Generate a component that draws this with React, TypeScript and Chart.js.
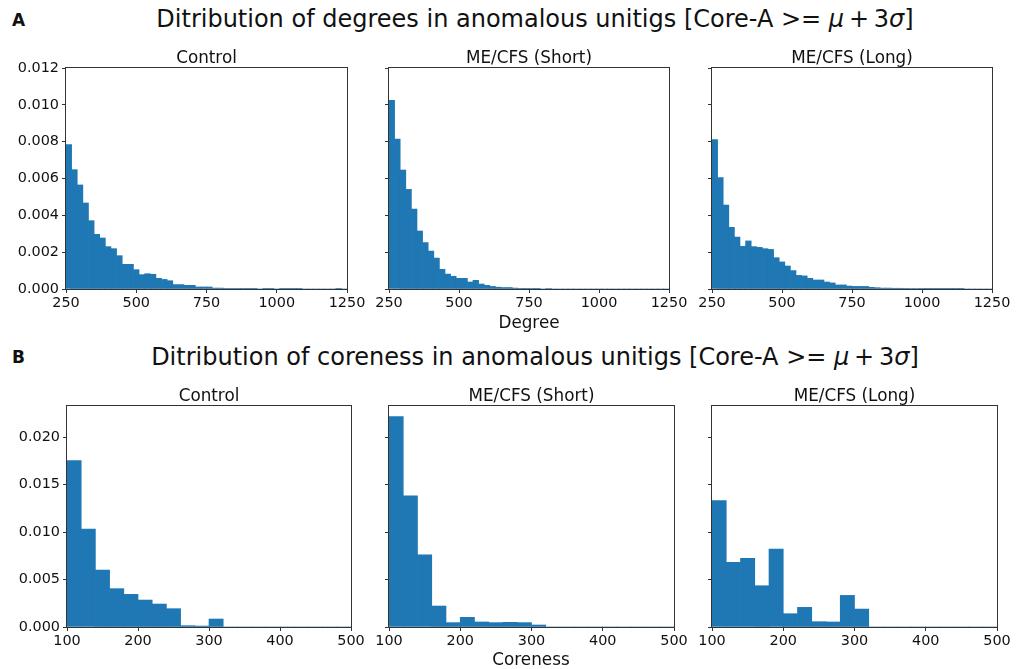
import React, { useEffect, useRef } from "react";
import { Chart, registerables } from "chart.js";

Chart.register(...registerables);

// ---------- Data ----------
const DEGREE_BIN_START = 250;
const DEGREE_BIN_WIDTH = 20;
const CORENESS_BIN_START = 100;
const CORENESS_BIN_WIDTH = 20;

const panelTitles = ["Control", "ME/CFS (Short)", "ME/CFS (Long)"];

const degreeControl = [
  0.00784, 0.00648, 0.00565, 0.00467, 0.00371, 0.00297, 0.00277, 0.0023, 0.00219, 0.00181,
  0.00134, 0.00134, 0.00105, 0.00078, 0.00083, 0.0008, 0.00058, 0.00052, 0.00045, 0.00024,
  0.00024, 0.0002, 0.0002, 0.00011, 0.00011, 0.00011, 0.00005, 0.00005, 0.00002, 0.00002,
  0.00002, 0.00002, 0.00001, 0.00001, 0, 0.00001, 0.00001, 0, 0.00001, 0.00001,
  0.00001, 0.00001, 0, 0, 0, 0, 0, 0, 0.00001, 0,
];
const degreeShort = [
  0.01024, 0.00814, 0.00646, 0.00541, 0.00434, 0.00315, 0.00252, 0.00206, 0.00168, 0.00107,
  0.00081, 0.00069, 0.00058, 0.00058, 0.00038, 0.00047, 0.00027, 0.0002, 0.00014, 0.0001,
  0.00008, 0.00008, 0.00005, 0.00002, 0.00001, 0.00002, 0.00001, 0, 0.00003, 0,
  0, 0, 0, 0, 0, 0, 0, 0, 0, 0,
  0, 0, 0, 0, 0, 0, 0, 0, 0, 0,
];
const degreeLong = [
  0.00811, 0.00605, 0.00456, 0.00335, 0.00282, 0.00232, 0.00261, 0.0023, 0.00226, 0.00219,
  0.00215, 0.0017, 0.00147, 0.00125, 0.001, 0.00074, 0.00071, 0.00058, 0.00049, 0.00049,
  0.00038, 0.00033, 0.00022, 0.00022, 0.00016, 0.00014, 0.00014, 0.00014, 0.00009, 0.00007,
  0.00005, 0.00005, 0.00004, 0.00004, 0.00002, 0.00003, 0.00003, 0.00002, 0.00001, 0.00001,
  0.00001, 0.00001, 0.00001, 0.00001, 0.00001, 0, 0, 0, 0, 0,
];

const corenessControl = [
  0.01754, 0.01032, 0.006, 0.00404, 0.00344, 0.00284, 0.00242, 0.00193, 0.00014, 0.0001,
  0.00084, 0, 0, 0, 0, 0, 0, 0, 0, 0,
];
const corenessShort = [
  0.02218, 0.01382, 0.00761, 0.00221, 0.00046, 0.00102, 0.00053, 0.00046, 0.00049, 0.00046,
  0.00021, 0, 0, 0, 0, 0, 0, 0, 0, 0,
];
const corenessLong = [
  0.01333, 0.00681, 0.00723, 0.00435, 0.00821, 0.0014, 0.00207, 0.00056, 0.00053, 0.00333,
  0.00189, 0, 0, 0, 0, 0, 0, 0, 0, 0,
];

const degreeXTicks = { min: 250, max: 1250, step: 250 };
const corenessXTicks = { min: 100, max: 500, step: 100 };
const degreeYTicks = { min: 0, max: 0.012, step: 0.002 };
const corenessYTicks = { min: 0, max: 0.02329, step: 0.005 };

// ---------- Styling ----------
const FONT = "'DejaVu Sans', 'Liberation Sans', sans-serif";
const BAR_COLOR = "#1f77b4";
const AXIS_COLOR = "#333333";
const TEXT_COLOR = "#111111";
const TICK_FONT = 14.4;
const TITLE_FONT = 16.8;
const SUPTITLE_FONT = 24;

const Y_W = 70;
const PAD_T = 12;
const PAD_R = 28;
const X_H = 30;

type PanelProps = {
  left: number;
  top: number;
  w: number;
  h: number;
  values: number[];
  binStart: number;
  binWidth: number;
  xt: { min: number; max: number; step: number };
  yt: { min: number; max: number; step: number };
  showY: boolean;
};

const framePlugin = {
  id: "frame",
  afterDatasetsDraw(chart: any) {
    const { ctx, chartArea } = chart;
    ctx.save();
    ctx.strokeStyle = AXIS_COLOR;
    ctx.lineWidth = 1;
    ctx.strokeRect(
      Math.round(chartArea.left) - 0.5,
      Math.round(chartArea.top) - 0.5,
      Math.round(chartArea.right - chartArea.left) + 1,
      Math.round(chartArea.bottom - chartArea.top) + 1
    );
    ctx.restore();
  },
};

function Panel(p: PanelProps) {
  const ref = useRef<HTMLCanvasElement | null>(null);
  const cw = Y_W + p.w + PAD_R;
  const ch = PAD_T + p.h + X_H;
  useEffect(() => {
    if (!ref.current) return;
    const data = p.values.map((v, i) => ({ x: p.binStart + p.binWidth * (i + 0.5), y: v }));
    const chart = new Chart(ref.current, {
      type: "bar",
      data: {
        datasets: [
          {
            data,
            backgroundColor: BAR_COLOR,
            borderWidth: 0,
            barPercentage: 1,
            categoryPercentage: 1,
          },
        ],
      },
      options: {
        animation: false,
        responsive: false,
        devicePixelRatio: 1,
        layout: { padding: { top: PAD_T, right: PAD_R, left: 0, bottom: 0 } },
        plugins: { legend: { display: false }, tooltip: { enabled: false }, title: { display: false } },
        scales: {
          x: {
            type: "linear",
            offset: false,
            min: p.xt.min,
            max: p.xt.max,
            afterFit(scale: any) {
              scale.height = X_H;
            },
            ticks: {
              stepSize: p.xt.step,
              autoSkip: false,
              maxRotation: 0,
              padding: 2,
              color: TEXT_COLOR,
              font: { family: FONT, size: TICK_FONT },
              callback: (v: any) => String(v),
            },
            grid: {
              display: true,
              drawOnChartArea: false,
              drawTicks: true,
              tickLength: 4,
              color: AXIS_COLOR,
              offset: false,
            },
            border: { display: false },
          },
          y: {
            type: "linear",
            min: p.yt.min,
            max: p.yt.max,
            afterFit(scale: any) {
              scale.width = Y_W;
            },
            ticks: {
              stepSize: p.yt.step,
              includeBounds: false,
              padding: 3,
              color: TEXT_COLOR,
              font: { family: FONT, size: TICK_FONT },
              callback: (v: any) => (p.showY ? Number(v).toFixed(3) : ""),
            },
            grid: {
              display: true,
              drawOnChartArea: false,
              drawTicks: true,
              tickLength: 4,
              color: AXIS_COLOR,
            },
            border: { display: false },
          },
        },
      } as any,
      plugins: [framePlugin],
    });
    return () => chart.destroy();
  }, []);
  return (
    <canvas
      ref={ref}
      width={cw}
      height={ch}
      style={{ position: "absolute", left: p.left - Y_W, top: p.top - PAD_T, width: cw, height: ch }}
    />
  );
}

function Text(props: { x: number; y: number; size: number; bold?: boolean; children: any; align?: string }) {
  const align = props.align || "center";
  return (
    <div
      style={{
        position: "absolute",
        left: props.x,
        top: props.y,
        transform: align === "center" ? "translate(-50%, -50%)" : "translate(0, -50%)",
        fontFamily: FONT,
        fontSize: props.size,
        fontWeight: props.bold ? "bold" : "normal",
        color: TEXT_COLOR,
        whiteSpace: "nowrap",
        lineHeight: 1,
      }}
    >
      {props.children}
    </div>
  );
}

const topRow = [
  { left: 66, w: 281, values: degreeControl },
  { left: 389, w: 280, values: degreeShort },
  { left: 712, w: 280, values: degreeLong },
];
const bottomRow = [
  { left: 67, w: 284, values: corenessControl },
  { left: 389, w: 285, values: corenessShort },
  { left: 712, w: 285, values: corenessLong },
];

export default function App() {
  const topY = 68;
  const topH = 221;
  const botY = 406;
  const botH = 221;
  return (
    <div style={{ position: "absolute", left: 0, top: 0, width: 1018, height: 669, background: "#fff", overflow: "hidden" }}>
      <Text x={12} y={20} size={17} bold align="left">A</Text>
      <Text x={535} y={19} size={SUPTITLE_FONT}>
        Ditribution of degrees in anomalous unitigs [Core-A &gt;= <i>μ</i>&thinsp;+&thinsp;3<i>σ</i>]
      </Text>
      {topRow.map((r, i) => (
        <React.Fragment key={"t" + i}>
          <Panel
            left={r.left}
            top={topY}
            w={r.w}
            h={topH}
            values={r.values}
            binStart={DEGREE_BIN_START}
            binWidth={DEGREE_BIN_WIDTH}
            xt={degreeXTicks}
            yt={degreeYTicks}
            showY={i === 0}
          />
          <Text x={r.left + r.w / 2} y={57} size={TITLE_FONT}>{panelTitles[i]}</Text>
        </React.Fragment>
      ))}
      <Text x={529} y={322} size={TITLE_FONT}>Degree</Text>

      <Text x={12} y={357} size={17} bold align="left">B</Text>
      <Text x={535} y={357} size={SUPTITLE_FONT}>
        Ditribution of coreness in anomalous unitigs [Core-A &gt;= <i>μ</i>&thinsp;+&thinsp;3<i>σ</i>]
      </Text>
      {bottomRow.map((r, i) => (
        <React.Fragment key={"b" + i}>
          <Panel
            left={r.left}
            top={botY}
            w={r.w}
            h={botH}
            values={r.values}
            binStart={CORENESS_BIN_START}
            binWidth={CORENESS_BIN_WIDTH}
            xt={corenessXTicks}
            yt={corenessYTicks}
            showY={i === 0}
          />
          <Text x={r.left + r.w / 2} y={395} size={TITLE_FONT}>{panelTitles[i]}</Text>
        </React.Fragment>
      ))}
      <Text x={531} y={659} size={TITLE_FONT}>Coreness</Text>
    </div>
  );
}
